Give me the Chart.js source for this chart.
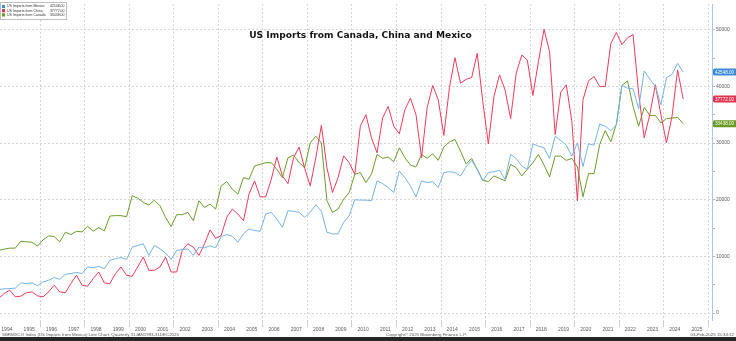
<!DOCTYPE html>
<html lang="en">
<head>
  <meta charset="UTF-8">
  <title>US Imports from Canada, China and Mexico</title>
  <script src="https://cdn.jsdelivr.net/npm/chart.js"></script>
  <style>
    html, body { margin: 0; padding: 0; background: #fff; }
    canvas { display: block; }
  </style>
</head>
<body>
  <canvas id="importsChart" width="736" height="341"></canvas>

  <script>
    // quarterly figures, 1993 Q4 .. 2024 Q4
    const firstYear = 1993, firstQuarter = 4;

    const mexico = [
      4100, 4150, 4270, 4330, 4390, 5320, 5200, 5320, 4850, 5500,
      5790, 6260, 5960, 6840, 6960, 7190, 6960, 8130, 8010, 8240,
      7830, 9300, 9590, 9800, 9470, 11630, 11930, 12220, 10170, 11930,
      11340, 10580, 9470, 11050, 11170, 11340, 10170, 11630, 11520, 11870,
      11520, 13510, 13860, 13560, 12510, 13970, 14850, 14560, 14440, 17480,
      17770, 16600, 15140, 18070, 17950, 17770, 16900, 17770, 19120, 17950,
      14260, 13970, 13970, 16020, 17190, 20000, 19940, 19940, 19820, 23330,
      22860, 22160, 21280, 25080, 23910, 22450, 20520, 23330, 23030, 23210,
      22160, 24790, 24960, 24790, 24200, 25800, 26950, 25370, 23330, 24790,
      24960, 25200, 23620, 28010, 27300, 25960, 25370, 29870, 29470, 29170,
      27300, 31220, 30460, 29640, 27710, 30050, 25870, 29870, 29640, 33380,
      32980, 32220, 33150, 40170, 39700, 39580, 36080, 42740, 41340, 39990,
      36780, 41570, 42150, 44080, 42548
    ];

    const china = [
      2500, 2570, 3450, 4040, 2860, 2980, 3570, 3740, 3040, 2860,
      3740, 4910, 3740, 3570, 5200, 6670, 4910, 4740, 6080, 7250,
      5320, 5200, 6960, 8130, 6670, 6490, 8130, 9880, 7540, 7540,
      8130, 9880, 7250, 7250, 11050, 12220, 11630, 10170, 12220, 14680,
      13210, 13680, 16900, 18360, 17480, 16310, 20990, 23330, 20520, 20520,
      23620, 27540, 24210, 22860, 27420, 29290, 25550, 22450, 27420, 33150,
      25670, 21280, 23910, 27750, 26550, 24500, 32980, 35020, 30920, 28290,
      34430, 36480, 32980, 31630, 35900, 37940, 35020, 27420, 36250, 40170,
      37650, 31340, 39760, 45080, 40580, 41260, 41570, 45840, 37360, 29870,
      38240, 42040, 39410, 34330, 42330, 45550, 44670, 38410, 44380, 50110,
      46130, 31520, 38990, 40290, 33850, 19820, 37650, 40990, 41750, 39990,
      39990, 47590, 49520, 47410, 48590, 49170, 38820, 30930, 35020, 40290,
      35020, 30050, 34730, 42920, 37772
    ];

    const canada = [
      10900, 11050, 11280, 11460, 11460, 12690, 12570, 12510, 11810, 12920,
      13620, 13510, 12570, 14270, 13860, 14440, 14320, 15320, 14440, 15080,
      14500, 17130, 17200, 17190, 17010, 20700, 20290, 19530, 19060, 19940,
      18940, 16900, 15260, 17360, 17360, 17770, 16310, 19820, 18650, 19240,
      18360, 22450, 23210, 21870, 20990, 23910, 23620, 25960, 26250, 26540,
      26540, 25380, 23910, 27420, 27890, 26540, 25670, 30050, 31220, 30050,
      19820, 17770, 18360, 20100, 21280, 24500, 24790, 23030, 24500, 28010,
      27310, 27540, 26710, 29170, 27420, 26130, 25790, 28010, 27310, 28120,
      26960, 29290, 30220, 30640, 28600, 26300, 27300, 25370, 23440, 23210,
      24210, 23790, 23330, 26250, 25670, 24210, 25370, 26540, 28010, 26130,
      24030, 27710, 27710, 26950, 27300, 25800, 20520, 24610, 24610, 29760,
      32220, 30220, 33380, 40170, 40990, 36480, 32980, 36310, 34900, 34900,
      33560, 34330, 34430, 34550, 33438
    ];

    const seriesNames = ['US Imports from Mexico', 'US Imports from China', 'US Imports from Canada'];
    const lastValues = [42548.00, 37772.00, 33438.00];
    const yearLabels = [1994, 1995, 1996, 1997, 1998, 1999, 2000, 2001, 2002, 2003, 2004,
                        2005, 2006, 2007, 2008, 2009, 2010, 2011, 2012, 2013, 2014, 2015,
                        2016, 2017, 2018, 2019, 2020, 2021, 2022, 2023, 2024, 2025];
    const yTicks = [0, 5000, 10000, 15000, 20000, 25000, 30000, 35000, 40000, 45000, 50000];

    const lineColors = ['#76b4e6', '#ec3b5b', '#6b9b2b'];
    const tagColors = ['#3d8bd8', '#e2324f', '#6a9a22'];

    // quarter labels and their position on the time axis (mid quarter)
    const quarters = [];
    const quarterPos = [];
    for (let i = 0; i < mexico.length; i++) {
      const n = (firstQuarter - 1) + i;
      const yr = firstYear + Math.floor(n / 4), q = n % 4 + 1;
      quarters.push(yr + ' Q' + q);
      quarterPos.push(yr + (q - 0.5) / 4);
    }
    const toPoints = arr => arr.map((v, i) => ({ x: quarterPos[i], y: v }));

    const gridGray = '#d6d6d6';
    const smallFont = { family: 'Liberation Sans', size: 5 };

    const overlay = {
      id: 'overlay',
      beforeDraw(chart) {
        const ctx = chart.ctx;
        ctx.save();
        ctx.fillStyle = '#fff';
        ctx.fillRect(0, 0, chart.width, chart.height);
        ctx.restore();
      },
      afterDraw(chart) {
        const ctx = chart.ctx;
        const area = chart.chartArea;
        const yScale = chart.scales.y;
        ctx.save();

        // title, fitted to the reference width
        const title = 'US Imports from Canada, China and Mexico';
        ctx.font = 'bold 10px "DejaVu Sans"';
        const size = 10 * 223 / ctx.measureText(title).width;
        ctx.font = 'bold ' + size.toFixed(2) + 'px "DejaVu Sans"';
        ctx.fillStyle = '#151515';
        ctx.textAlign = 'center';
        ctx.textBaseline = 'middle';
        ctx.fillText(title, 360.5, 36);

        // legend box
        ctx.fillStyle = '#fff';
        ctx.fillRect(0.5, 2.5, 66, 17);
        ctx.strokeStyle = '#bdbdbd';
        ctx.lineWidth = 1;
        ctx.strokeRect(0.5, 2.5, 66, 17);
        ctx.font = '3.5px "Liberation Sans"';
        seriesNames.forEach((name, k) => {
          const ry = 6.5 + k * 4.2;
          ctx.fillStyle = tagColors[k];
          ctx.fillRect(2, ry - 1.6, 3, 3.2);
          ctx.fillStyle = '#333';
          ctx.textAlign = 'left';
          ctx.fillText(name, 7, ry);
          ctx.textAlign = 'right';
          ctx.fillText(lastValues[k].toFixed(2), 64.5, ry);
        });

        // last value tags on the right axis
        ctx.font = '4.6px "Liberation Sans"';
        lastValues.forEach((v, k) => {
          const py = yScale.getPixelForValue(v);
          const x0 = area.right + 1;
          ctx.fillStyle = tagColors[k];
          ctx.beginPath();
          ctx.roundRect(x0, py - 3.5, chart.width - x0 + 2, 7, 1.5);
          ctx.fill();
          ctx.fillStyle = '#fff';
          ctx.textAlign = 'left';
          ctx.fillText(v.toFixed(2), x0 + 2, py + 0.3);
        });

        // footer
        ctx.font = '4.4px "Liberation Sans"';
        ctx.fillStyle = '#555';
        ctx.textBaseline = 'middle';
        ctx.textAlign = 'left';
        ctx.fillText('SBRMXCO Index (US Imports from Mexico) Line Chart, Quarterly 31JAN1993-31DEC2025', 2, 334.5);
        ctx.fillText('Copyright\u00A9 2025 Bloomberg Finance L.P.', 386, 334.5);
        ctx.textAlign = 'right';
        ctx.fillText('03-Feb-2025 15:34:12', 734, 334.5);

        ctx.fillStyle = '#262626';
        ctx.fillRect(0, 337, chart.width, 4);
        ctx.restore();
      }
    };

    new Chart(document.getElementById('importsChart'), {
      type: 'line',
      data: {
        datasets: [
          { label: seriesNames[0], data: toPoints(mexico), borderColor: lineColors[0] },
          { label: seriesNames[1], data: toPoints(china), borderColor: lineColors[1] },
          { label: seriesNames[2], data: toPoints(canada), borderColor: lineColors[2] }
        ]
      },
      options: {
        responsive: false,
        devicePixelRatio: 1,
        animation: false,
        events: [],
        layout: { padding: { top: 2, left: 0, right: 0, bottom: 0 } },
        elements: {
          line: { borderWidth: 1, tension: 0, fill: false },
          point: { radius: 0 }
        },
        plugins: {
          legend: { display: false },
          title: { display: false },
          tooltip: { enabled: false }
        },
        scales: {
          x: {
            type: 'linear',
            min: 1994.19,
            max: 2026.17,
            afterBuildTicks: axis => {
              const t = [];
              for (let yr = 1994; yr <= 2026; yr++) {
                t.push({ value: yr });
                t.push({ value: yr + 0.5 });
              }
              axis.ticks = t.filter(k => k.value >= axis.min && k.value <= axis.max);
            },
            afterFit: axis => { axis.height = 21; },
            ticks: {
              autoSkip: false,
              maxRotation: 0,
              padding: 0,
              font: smallFont,
              color: '#5a5a5a',
              callback: v => (v % 1 === 0.5 && yearLabels.includes(v - 0.5)) ? String(v - 0.5) : ''
            },
            grid: {
              color: c => (c.tick && c.tick.value % 2 === 0) ? gridGray : 'rgba(0,0,0,0)',
              tickColor: c => (c.tick && c.tick.value % 2 === 0) ? '#cfcfcf' : 'rgba(0,0,0,0)',
              tickLength: 7
            },
            border: { display: false, dash: [2, 2] }
          },
          y: {
            position: 'right',
            min: -1228,
            max: 54561,
            afterBuildTicks: axis => { axis.ticks = yTicks.map(v => ({ value: v })); },
            afterFit: axis => { axis.width = 24; },
            ticks: {
              autoSkip: false,
              padding: 1,
              font: smallFont,
              color: '#5a5a5a',
              callback: v => (v % 10000 === 0) ? String(v) : ''
            },
            grid: {
              color: c => (c.tick && c.tick.value % 10000 === 0) ? gridGray : 'rgba(0,0,0,0)',
              tickColor: '#b5b5b5',
              tickLength: 3
            },
            border: { display: true, color: '#a6c8ea', width: 1, dash: [2, 2] }
          }
        }
      },
      plugins: [overlay]
    });
  </script>
</body>
</html>
